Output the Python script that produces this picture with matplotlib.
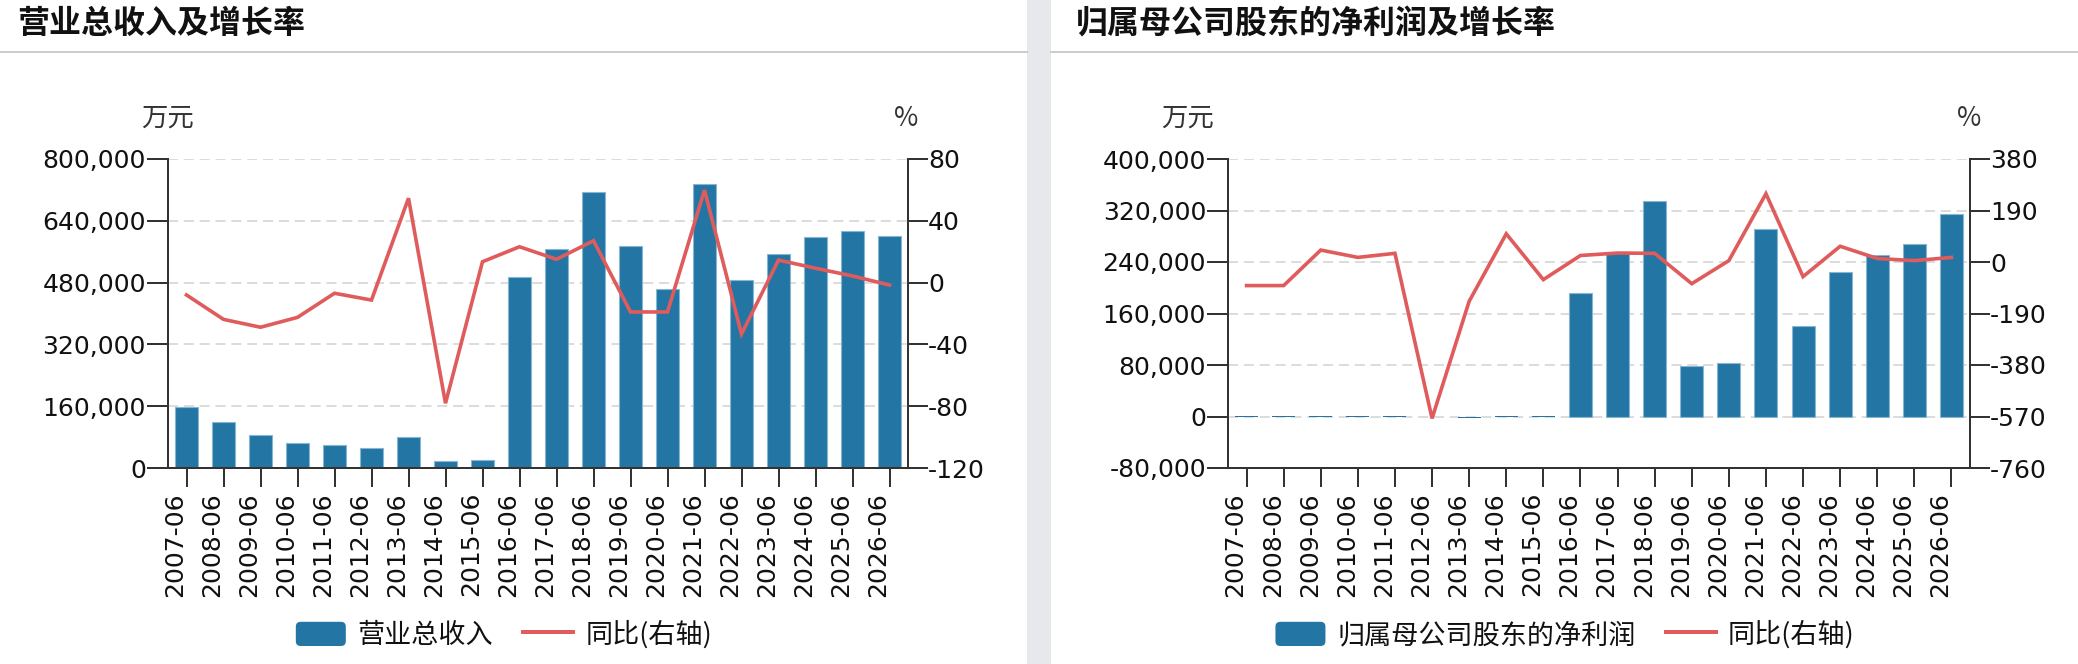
import matplotlib
matplotlib.use("Agg")
import matplotlib.pyplot as plt
from matplotlib.patches import Rectangle, FancyBboxPatch, Patch
from matplotlib.lines import Line2D
from matplotlib.legend_handler import HandlerPatch
from matplotlib.ticker import FuncFormatter, FixedLocator
import matplotlib.transforms as mtransforms

# ---------------- data ----------------
periods = ["2007-06", "2008-06", "2009-06", "2010-06", "2011-06", "2012-06", "2013-06",
           "2014-06", "2015-06", "2016-06", "2017-06", "2018-06", "2019-06", "2020-06",
           "2021-06", "2022-06", "2023-06", "2024-06", "2025-06", "2026-06"]

revenue = [158000, 120000, 84600, 64700, 60400, 52600, 81000, 17300, 19900, 494500,
           566200, 713800, 573900, 462600, 735300, 486700, 554000, 598900, 613600, 601500]
revenue_yoy = [-8.0, -23.8, -28.9, -22.5, -6.9, -11.3, 54.6, -78.1, 13.5, 23.2,
               15.1, 27.1, -19.0, -19.0, 59.9, -33.3, 14.6, 9.3, 4.3, -1.6]

profit = [600, 80, 115, 135, 180, -850, -2100, 84, 29, 191300,
          253300, 335500, 78600, 82800, 291000, 141100, 223900, 250200, 267300, 313800]
profit_yoy = [-87, -87, 44, 17, 32, -577, -145, 104, -65, 24,
              33, 32, -80, 5, 252, -54, 58, 13, 5, 17]

titles = ["营业总收入及增长率", "归属母公司股东的净利润及增长率"]
bar_names = ["营业总收入", "归属母公司股东的净利润"]
line_name = "同比(右轴)"
left_unit = "万元"
right_unit = "%"

left_ticks = [[0, 160000, 320000, 480000, 640000, 800000],
              [-80000, 0, 80000, 160000, 240000, 320000, 400000]]
right_ticks = [[-120, -80, -40, 0, 40, 80],
               [-760, -570, -380, -190, 0, 190, 380]]

# ---------------- style ----------------
W, H, DPI = 2078, 664, 100
BAR_C = "#2376a4"
BAR_EDGE = "#86b6d2"
LINE_C = "#e05b5b"
AX_C = "#333333"
GRID_C = "#dcdcdc"
CJK = ["Noto Sans CJK SC", "DejaVu Sans"]
NUM = ["DejaVu Sans", "Noto Sans CJK SC"]

plt.rcParams["font.family"] = NUM


def px(v):
    return v * 72.0 / DPI


fig = plt.figure(figsize=(W / DPI, H / DPI), dpi=DPI)
fig.patch.set_facecolor("white")

# separator strip and title underlines
fig.add_artist(Rectangle((1027 / W, 0), 24 / W, 1, transform=fig.transFigure,
                         facecolor="#e6e8eb", edgecolor="none", zorder=0))
for x0, x1 in [(0, 1027), (1051, W)]:
    fig.add_artist(Line2D([x0 / W, x1 / W], [1 - 52 / H, 1 - 52 / H],
                          transform=fig.transFigure, color="#cccccc", lw=px(2)))


class RoundHandler(HandlerPatch):
    def create_artists(self, legend, orig_handle, xdescent, ydescent, width, height,
                       fontsize, trans):
        p = FancyBboxPatch((-xdescent, -ydescent), width, height,
                           boxstyle="round,pad=0,rounding_size=%f" % (height * 0.2),
                           facecolor=orig_handle.get_facecolor(), edgecolor="none",
                           transform=trans)
        return [p]


panels = [
    dict(ax_left=168, ax_right=908, title_x=17, unit_x=167, pct_x=906, legend_cx=504,
         bars=revenue, line=revenue_yoy),
    dict(ax_left=1228, ax_right=1970, title_x=1076, unit_x=1187, pct_x=1969, legend_cx=1565,
         bars=profit, line=profit_yoy),
]

top_px, bot_px = 159, 468
xs = list(range(len(periods)))

for i, p in enumerate(panels):
    ax = fig.add_axes([p["ax_left"] / W, 1 - bot_px / H,
                       (p["ax_right"] - p["ax_left"]) / W, (bot_px - top_px) / H])
    ax2 = ax.twinx()

    lt = left_ticks[i]
    rt = right_ticks[i]
    span = lt[-1] - lt[0]
    edge_w = [0.8 if abs(v) > span * 0.01 else 0.0 for v in p["bars"]]
    ax.bar(xs, p["bars"], width=0.62, color=BAR_C, edgecolor=BAR_EDGE,
           linewidth=edge_w, zorder=2)
    ax2.plot(xs, p["line"], color=LINE_C, lw=2.6, solid_joinstyle="miter", zorder=3)

    ax.set_xlim(-0.5, len(periods) - 0.5)
    ax.set_ylim(lt[0], lt[-1])
    ax2.set_ylim(rt[0], rt[-1])
    ax.yaxis.set_major_locator(FixedLocator(lt))
    ax2.yaxis.set_major_locator(FixedLocator(rt))
    ax.yaxis.set_major_formatter(FuncFormatter(lambda v, pos: "{:,.0f}".format(v)))
    ax2.yaxis.set_major_formatter(FuncFormatter(lambda v, pos: "{:.0f}".format(v)))

    # grid lines (dashed) at left ticks, excluding the bottom spine
    for t in lt[1:]:
        ax.axhline(t, color=GRID_C, lw=px(2), dashes=(px(7), px(4)), zorder=1)

    for a in (ax, ax2):
        for s in a.spines.values():
            s.set_color(AX_C)
            s.set_linewidth(px(2))
        a.spines["top"].set_visible(False)
        a.set_facecolor("none")
    ax.spines["right"].set_visible(False)
    ax2.spines["left"].set_visible(False)
    ax2.spines["bottom"].set_visible(False)

    ax.tick_params(axis="y", length=px(21), width=px(2), color=AX_C, pad=px(1),
                   labelsize=18, labelcolor="#111111")
    ax2.tick_params(axis="y", length=px(20), width=px(2), color=AX_C, pad=px(0),
                    labelsize=18, labelcolor="#111111")
    ax.set_xticks(xs)
    ax.set_xticklabels(periods, rotation=90, ha="center", va="top", fontsize=18,
                       color="#111111")
    ax.tick_params(axis="x", length=px(19), width=px(2), color=AX_C, pad=px(5))
    offset = mtransforms.ScaledTranslation(-11 / DPI, 0, fig.dpi_scale_trans)
    for lbl in ax.get_xticklabels():
        lbl.set_transform(lbl.get_transform() + offset)

    # titles and units
    fig.text(p["title_x"] / W, 1 - 24 / H, titles[i], family=CJK, fontsize=23,
             fontweight="bold", ha="left", va="center", color="#111111")
    fig.text(p["unit_x"] / W, 1 - 118 / H, left_unit, family=CJK, fontsize=19,
             ha="center", va="center", color="#333333")
    fig.text(p["pct_x"] / W, 1 - 118 / H, right_unit, family=CJK, fontsize=19,
             ha="center", va="center", color="#333333")

    # legend
    h_bar = Patch(facecolor=BAR_C)
    h_line = Line2D([], [], color=LINE_C, lw=px(4))
    fs = 19.5
    fs_px = fs * DPI / 72.0
    leg = fig.legend([h_bar, h_line], [bar_names[i], line_name], loc="center",
                     bbox_to_anchor=(p["legend_cx"] / W, 1 - 635 / H), ncol=2,
                     frameon=False, handlelength=50 / fs_px, handleheight=27 / fs_px,
                     handletextpad=12 / fs_px, columnspacing=30 / fs_px,
                     handler_map={Patch: RoundHandler()},
                     prop={"family": CJK, "size": fs})
    for t in leg.get_texts():
        t.set_color("#111111")

fig.savefig("out.png", dpi=DPI, facecolor="white")
